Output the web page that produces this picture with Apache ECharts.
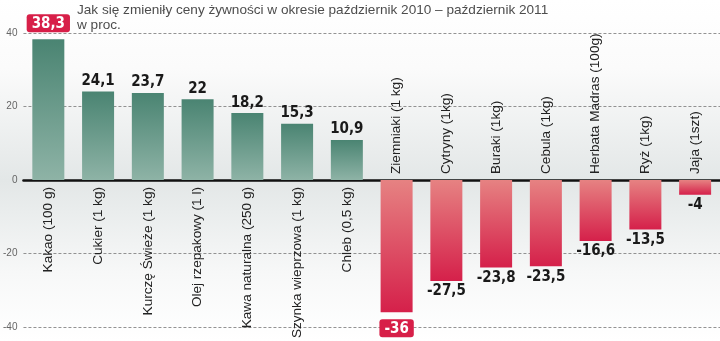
<!DOCTYPE html>
<html><head><meta charset="utf-8">
<script src="https://cdn.jsdelivr.net/npm/echarts@6/dist/echarts.min.js"></script>
<style>html,body{margin:0;padding:0;background:#fff}#c{width:720px;height:341px}</style>
</head><body><div id="c"></div>
<script>
const categories = ['Kakao (100 g)','Cukier (1 kg)','Kurczę Świeże (1 kg)','Olej rzepakowy (1 l)','Kawa naturalna (250 g)','Szynka wieprzowa (1 kg)','Chleb (0,5 kg)','Ziemniaki (1 kg)','Cytryny (1kg)','Buraki (1kg)','Cebula (1kg)','Herbata Madras (100g)','Ryż (1kg)','Jaja (1szt)'];
const values = [38.3, 24.1, 23.7, 22, 18.2, 15.3, 10.9, -36, -27.5, -23.8, -23.5, -16.6, -13.5, -4];
const highlighted = ['Kakao (100 g)', 'Ziemniaki (1 kg)'];
const yTicks = [-40, -20, 0, 20, 40];
const titleLines = ['Jak się zmieniły ceny żywności w okresie październik 2010 – październik 2011', 'w proc.'];

const condensed = "'DejaVu Sans Condensed','Liberation Sans Narrow','Roboto Condensed','DejaVu Sans',sans-serif";
const fmt = v => String(v).replace('.', ',');

const greenGrad = {type:'linear',x:0,y:0,x2:0,y2:1,colorStops:[{offset:0,color:'#4a8472'},{offset:1,color:'#8eb3a6'}]};
const redGrad = {type:'linear',x:0,y:0,x2:0,y2:1,colorStops:[{offset:0,color:'#e68282'},{offset:1,color:'#d5204a'}]};

const barData = values.map((v, i) => {
  const hi = highlighted.includes(categories[i]);
  const lab = {
    show: true,
    position: v >= 0 ? 'top' : 'bottom',
    distance: hi ? 7 : 3,
    formatter: fmt(v),
    fontFamily: condensed,
    fontWeight: 'bold',
    fontSize: 15,
    color: hi ? '#fff' : '#1a1a1a'
  };
  if (hi) { lab.backgroundColor = '#d71f48'; lab.padding = [2, 5, 1, 5]; lab.borderRadius = 3; }
  return { value: v, itemStyle: { color: v >= 0 ? greenGrad : redGrad }, label: lab };
});

const chart = echarts.init(document.getElementById('c'), null, {renderer: 'canvas'});
chart.setOption({
  animation: false,
  backgroundColor: '#ffffff',
  graphic: [{
    type: 'rect', z: -100, silent: true,
    shape: {x: 0, y: 0, width: 720, height: 341},
    style: {fill: {type:'linear',x:0,y:0,x2:0,y2:1,colorStops:[
      {offset:0,color:'#ffffff'},{offset:0.2,color:'#fbfbfb'},{offset:0.53,color:'#e3e7e7'},{offset:0.8,color:'#f7f8f8'},{offset:1,color:'#ffffff'}]}}
  }],
  title: {
    text: titleLines.join('\n'),
    left: 77, top: 3, padding: 0,
    textStyle: {fontFamily: "'Liberation Sans', Arial, sans-serif", fontWeight: 'normal', fontSize: 13.6, color: '#4d4d4d', lineHeight: 15}
  },
  grid: {left: 20, right: 0, top: 33, bottom: 14, containLabel: false},
  xAxis: {
    type: 'category', data: categories,
    axisLine: {onZero: true, lineStyle: {color: '#111', width: 2.5}},
    axisTick: {show: false}, axisLabel: {show: false}, splitLine: {show: false}
  },
  yAxis: {
    type: 'value', min: -40, max: 40, interval: 20,
    axisLine: {show: false}, axisTick: {show: false},
    axisLabel: {margin: 6, color: '#666', fontSize: 10, fontFamily: "'Liberation Sans', Arial, sans-serif",
      formatter: v => yTicks.includes(v) ? String(v) : ''},
    splitLine: {show: true, lineStyle: {color: '#777', width: 0.8, type: [3, 2]}}
  },
  series: [{
    type: 'bar', data: barData, barWidth: 32, z: 3
  }, {
    type: 'custom', z: 4, silent: true,
    data: values.map((v, i) => [i, v]),
    renderItem: function (params, api) {
      const i = api.value(0);
      const v = api.value(1);
      const p = api.coord([i, 0]);
      const pos = v >= 0;
      return {
        type: 'text',
        x: p[0], y: pos ? p[1] + 7 : p[1] - 6,
        rotation: Math.PI / 2,
        style: {
          text: categories[i],
          align: pos ? 'right' : 'left',
          verticalAlign: 'middle',
          font: "13.6px 'Liberation Sans', Arial, sans-serif",
          fill: '#222'
        }
      };
    }
  }]
});
</script></body></html>
